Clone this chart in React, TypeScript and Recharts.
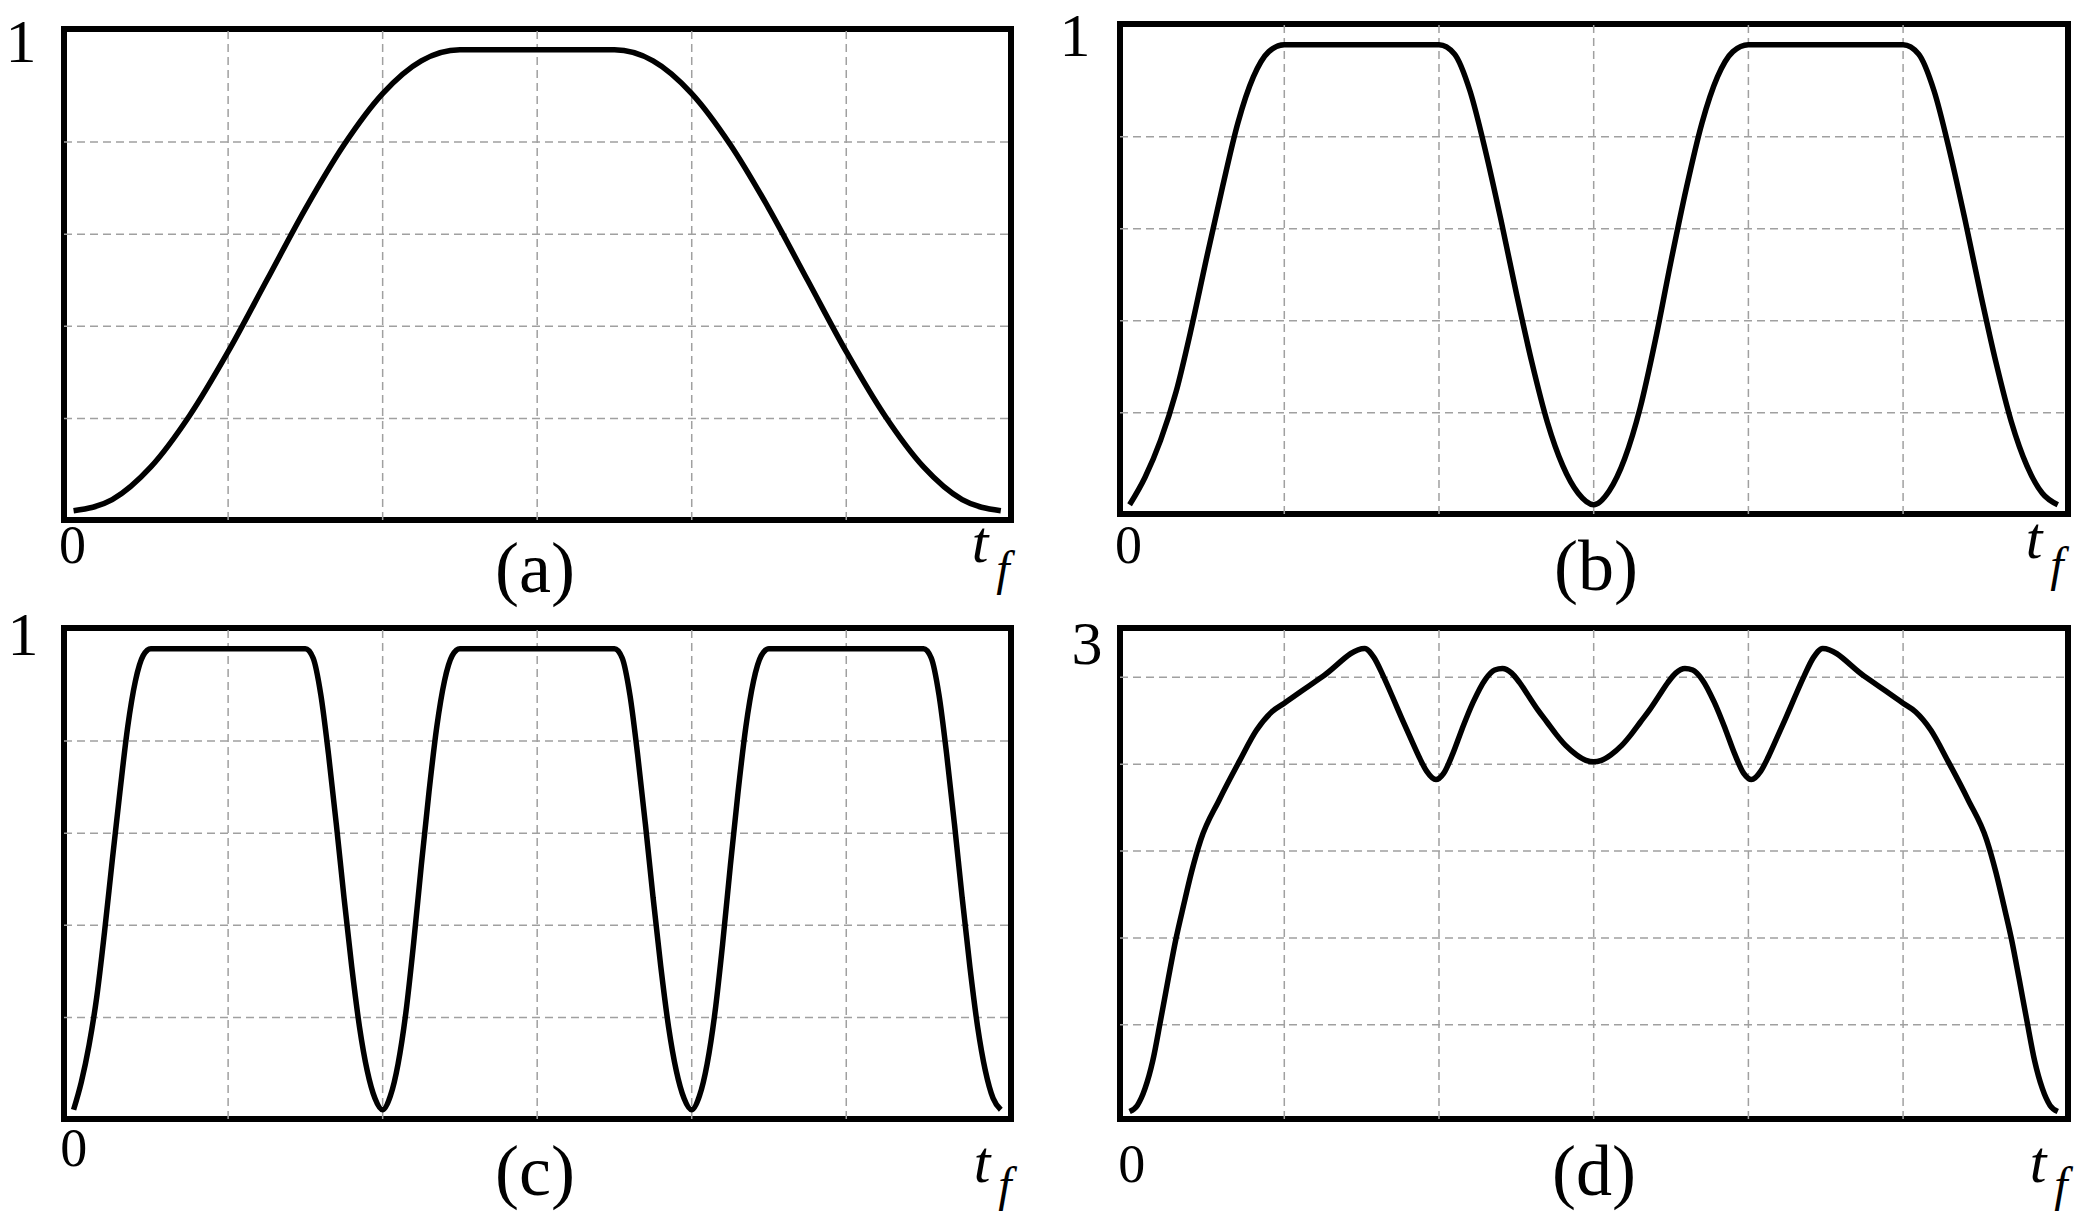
import React from 'react';
import { LineChart, Line, XAxis, YAxis, ReferenceLine, ReferenceArea } from 'recharts';

// time axis runs 0..t_f, t_f drawn as 6 grid cells
const tA = [0, 0.25, 0.5, 0.75, 1, 1.25, 1.5, 1.75, 2, 2.25, 2.5, 3, 3.5, 3.75, 4, 4.25, 4.5, 4.75, 5, 5.25, 5.5, 5.75, 6];
const yA = [0, 0.024, 0.095, 0.206, 0.345, 0.5, 0.655, 0.794, 0.905, 0.976, 1, 1, 1, 0.976, 0.905, 0.794, 0.655, 0.5, 0.345, 0.206, 0.095, 0.024, 0];

const tB = [
  0, 0.1, 0.2, 0.3, 0.4, 0.5, 0.6, 0.7, 0.8, 0.9, 1, 1.5,
  2, 2.1, 2.2, 2.3, 2.4, 2.5, 2.6, 2.7, 2.8, 2.9, 3,
  3.1, 3.2, 3.3, 3.4, 3.5, 3.6, 3.7, 3.8, 3.9, 4, 4.5,
  5, 5.1, 5.2, 5.3, 5.4, 5.5, 5.6, 5.7, 5.8, 5.9, 6,
];
const yB = [
  0, 0.06, 0.14, 0.245, 0.385, 0.54, 0.69, 0.83, 0.93, 0.985, 1, 1,
  1, 0.98, 0.9, 0.77, 0.62, 0.46, 0.31, 0.18, 0.085, 0.025, 0,
  0.03, 0.1, 0.21, 0.36, 0.53, 0.69, 0.83, 0.93, 0.985, 1, 1,
  1, 0.98, 0.9, 0.77, 0.62, 0.46, 0.31, 0.18, 0.085, 0.025, 0,
];

const tC = [
  0, 0.05, 0.1, 0.15, 0.2, 0.25, 0.3, 0.35, 0.4, 0.45, 0.5, 1,
  1.5, 1.55, 1.6, 1.65, 1.7, 1.75, 1.8, 1.85, 1.9, 1.95, 2,
  2.05, 2.1, 2.15, 2.2, 2.25, 2.3, 2.35, 2.4, 2.45, 2.5, 3,
  3.5, 3.55, 3.6, 3.65, 3.7, 3.75, 3.8, 3.85, 3.9, 3.95, 4,
  4.05, 4.1, 4.15, 4.2, 4.25, 4.3, 4.35, 4.4, 4.45, 4.5, 5,
  5.5, 5.55, 5.6, 5.65, 5.7, 5.75, 5.8, 5.85, 5.9, 5.95, 6,
];
const yC = [
  0, 0.06, 0.14, 0.245, 0.385, 0.54, 0.69, 0.83, 0.93, 0.985, 1, 1,
  1, 0.98, 0.9, 0.77, 0.62, 0.46, 0.31, 0.18, 0.085, 0.025, 0,
  0.03, 0.1, 0.21, 0.36, 0.53, 0.69, 0.83, 0.93, 0.985, 1, 1,
  1, 0.98, 0.9, 0.77, 0.62, 0.46, 0.31, 0.18, 0.085, 0.025, 0,
  0.03, 0.1, 0.21, 0.36, 0.53, 0.69, 0.83, 0.93, 0.985, 1, 1,
  1, 0.98, 0.9, 0.77, 0.62, 0.46, 0.31, 0.18, 0.085, 0.025, 0,
];

const tD = [
  0, 0.05, 0.1, 0.15, 0.2, 0.25, 0.3, 0.35, 0.4, 0.46, 0.58, 0.71, 0.82, 0.92, 1, 1.25, 1.52,
  1.58, 1.64, 1.7, 1.76, 1.82, 1.87, 1.92, 1.98, 2.03, 2.09, 2.15, 2.22, 2.3, 2.36, 2.41, 2.47,
  2.52, 2.58, 2.64, 2.7, 2.76, 2.82, 2.89, 2.95, 3,
  3.05, 3.11, 3.18, 3.24, 3.3, 3.36, 3.42, 3.48, 3.53, 3.59, 3.64, 3.7, 3.78, 3.85, 3.91, 3.97,
  4.02, 4.08, 4.13, 4.18, 4.24, 4.3, 4.36, 4.42, 4.48, 4.75, 5, 5.08, 5.18, 5.29, 5.42, 5.54,
  5.6, 5.65, 5.7, 5.75, 5.8, 5.85, 5.9, 5.95, 6,
];
const yD = [
  0, 0.04, 0.15, 0.33, 0.59, 0.86, 1.12, 1.34, 1.55, 1.76, 2.02, 2.27, 2.47, 2.59, 2.645, 2.82, 3,
  2.94, 2.82, 2.685, 2.545, 2.41, 2.3, 2.205, 2.15, 2.19, 2.32, 2.48, 2.65, 2.8, 2.86, 2.87, 2.84,
  2.78, 2.69, 2.6, 2.52, 2.44, 2.37, 2.31, 2.275, 2.265,
  2.275, 2.31, 2.37, 2.44, 2.52, 2.6, 2.69, 2.78, 2.84, 2.87, 2.86, 2.8, 2.65, 2.48, 2.32, 2.19,
  2.15, 2.205, 2.3, 2.41, 2.545, 2.685, 2.82, 2.94, 3, 2.82, 2.645, 2.59, 2.47, 2.27, 2.02, 1.76,
  1.55, 1.34, 1.12, 0.86, 0.59, 0.33, 0.15, 0.04, 0,
];

const xTicks = [1, 2, 3, 4, 5];
const unitTicks = [0.2, 0.4, 0.6, 0.8];
const dTicks = [0.5625, 1.125, 1.6875, 2.25, 2.8125];

const topLabels = ['1', '1', '1', '3'];
const panelNames = ['(a)', '(b)', '(c)', '(d)'];

const X_DOMAIN: [number, number] = [-0.062, 6.066];
const FONT = '"Liberation Serif", "Times New Roman", Times, serif';
const GRID = { stroke: '#a0a0a0', strokeWidth: 1.5, strokeDasharray: '8 5' };

type PanelProps = {
  t: number[];
  v: number[];
  left: number;
  top: number;
  width: number;
  height: number;
  yDomain: [number, number];
  yTicks: number[];
};

function Panel({ t, v, left, top, width, height, yDomain, yTicks }: PanelProps) {
  const rows = t.map((tt, i) => ({ t: tt, v: v[i] }));
  const pad = 10;
  return (
    <div style={{ position: 'absolute', left: left - pad, top: top - pad }}>
      <LineChart
        width={width + 2 * pad}
        height={height + 2 * pad}
        data={rows}
        margin={{ top: pad, right: pad, bottom: pad, left: pad }}
      >
        <XAxis
          type="number"
          dataKey="t"
          domain={X_DOMAIN}
          ticks={xTicks}
          allowDataOverflow
          height={0}
          tick={false}
          tickLine={false}
          axisLine={false}
        />
        <YAxis
          type="number"
          domain={yDomain}
          ticks={yTicks}
          allowDataOverflow
          width={0}
          tick={false}
          tickLine={false}
          axisLine={false}
        />
        {xTicks.map((x) => (
          <ReferenceLine key={`x${x}`} x={x} {...GRID} />
        ))}
        {yTicks.map((y) => (
          <ReferenceLine key={`y${y}`} y={y} {...GRID} />
        ))}
        <Line
          type="monotone"
          dataKey="v"
          stroke="#000"
          strokeWidth={5.5}
          dot={false}
          isAnimationActive={false}
        />
        <ReferenceArea
          x1={X_DOMAIN[0]}
          x2={X_DOMAIN[1]}
          y1={yDomain[0]}
          y2={yDomain[1]}
          fill="none"
          fillOpacity={0}
          stroke="#000"
          strokeWidth={6}
          ifOverflow="visible"
        />
      </LineChart>
    </div>
  );
}

// label anchors for each panel: top value, zero, panel name, t_f
const labelPos = [
  { top: [21, 62], zero: [72.5, 563], name: [535, 592], t: [980, 562], f: [1003, 585] },
  { top: [1075, 56], zero: [1128.5, 563], name: [1596, 590], t: [2034, 558], f: [2057, 581] },
  { top: [23, 655], zero: [73.7, 1166], name: [535, 1195], t: [982, 1182], f: [1005, 1201] },
  { top: [1087, 664], zero: [1131.8, 1182], name: [1594, 1195], t: [2038, 1182], f: [2061, 1201] },
];

export default function App() {
  const txt = { fontFamily: FONT, fill: '#000' };
  return (
    <div
      style={{
        position: 'absolute',
        left: 0,
        top: 0,
        width: 2089,
        height: 1220,
        background: '#fff',
        overflow: 'hidden',
      }}
    >
      <Panel t={tA} v={yA} left={64} top={29} width={947} height={491} yDomain={[-0.02, 1.045]} yTicks={unitTicks} />
      <Panel t={tB} v={yB} left={1120} top={24} width={948} height={490} yDomain={[-0.02, 1.045]} yTicks={unitTicks} />
      <Panel t={tC} v={yC} left={64} top={628} width={947} height={491} yDomain={[-0.02, 1.045]} yTicks={unitTicks} />
      <Panel t={tD} v={yD} left={1120} top={628} width={948} height={491} yDomain={[-0.048, 3.132]} yTicks={dTicks} />

      <svg
        width={2089}
        height={1220}
        style={{ position: 'absolute', left: 0, top: 0, pointerEvents: 'none' }}
      >
        {labelPos.map((p, i) => (
          <g key={i}>
            <text x={p.top[0]} y={p.top[1]} fontSize={62} textAnchor="middle" style={txt}>
              {topLabels[i]}
            </text>
            <text x={p.zero[0]} y={p.zero[1]} fontSize={54} textAnchor="middle" style={txt}>
              0
            </text>
            <text x={p.name[0]} y={p.name[1]} fontSize={72} textAnchor="middle" style={txt}>
              {panelNames[i]}
            </text>
            <text x={p.t[0]} y={p.t[1]} fontSize={60} fontStyle="italic" textAnchor="middle" style={txt}>
              t
            </text>
            <text x={p.f[0]} y={p.f[1]} fontSize={48} fontStyle="italic" textAnchor="middle" style={txt}>
              f
            </text>
          </g>
        ))}
      </svg>
    </div>
  );
}
